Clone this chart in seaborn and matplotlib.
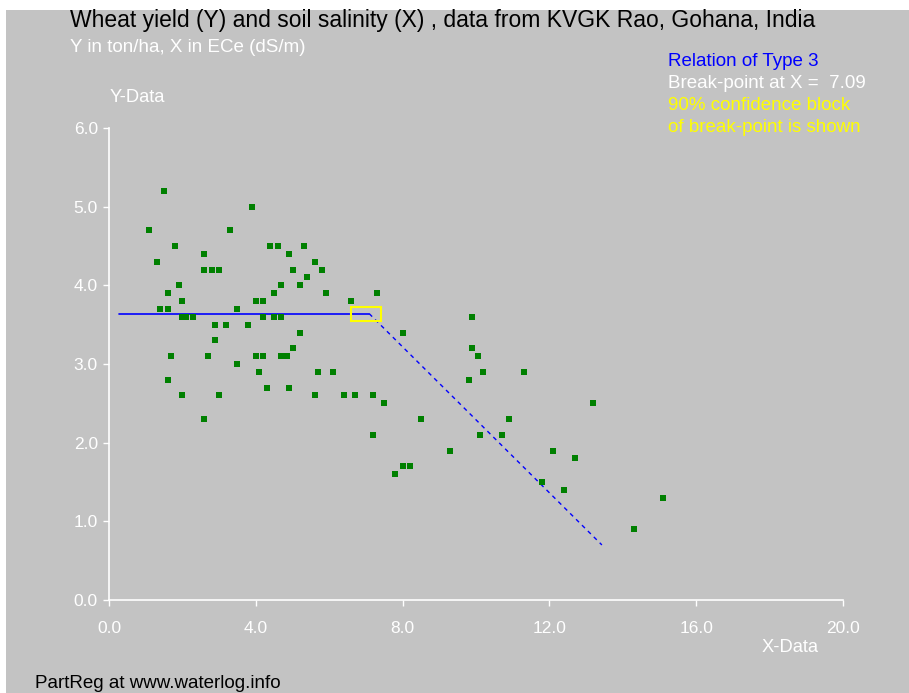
import numpy as np
import pandas as pd
import matplotlib
matplotlib.use("Agg")
import matplotlib.pyplot as plt
import seaborn as sns
from matplotlib.patches import Rectangle

# data (X = ECe in dS/m, Y = wheat yield ton/ha)
salinity = [1.5, 3.9, 1.1, 3.3, 1.8, 4.4, 4.6, 5.3, 2.6, 4.9,
            1.3, 5.6, 2.6, 2.8, 3.0, 5.0, 5.8, 5.4, 1.9, 4.7,
            5.2, 1.6, 4.5, 5.9, 7.3, 2.0, 4.0, 4.2, 6.6, 1.4,
            1.6, 3.5, 2.0, 2.1, 2.3, 4.2, 4.5, 4.7, 9.9, 2.9,
            3.2, 3.8, 5.2, 8.0, 2.9, 5.0, 9.9, 1.7, 2.7, 4.0,
            4.2, 4.7, 4.85, 10.05, 3.5, 4.1, 5.7, 6.1, 10.2, 11.3,
            1.6, 9.8, 4.3, 4.9, 2.0, 3.0, 5.6, 6.4, 6.7, 7.2,
            7.5, 13.2, 2.6, 8.5, 10.9, 7.2, 10.1, 10.7, 9.3, 12.1,
            12.7, 8.0, 8.2, 7.8, 11.8, 12.4, 15.1, 14.3]
yield_ = [5.2, 5.0, 4.7, 4.7, 4.5, 4.5, 4.5, 4.5, 4.4, 4.4,
          4.3, 4.3, 4.2, 4.2, 4.2, 4.2, 4.2, 4.1, 4.0, 4.0,
          4.0, 3.9, 3.9, 3.9, 3.9, 3.8, 3.8, 3.8, 3.8, 3.7,
          3.7, 3.7, 3.6, 3.6, 3.6, 3.6, 3.6, 3.6, 3.6, 3.5,
          3.5, 3.5, 3.4, 3.4, 3.3, 3.2, 3.2, 3.1, 3.1, 3.1,
          3.1, 3.1, 3.1, 3.1, 3.0, 2.9, 2.9, 2.9, 2.9, 2.9,
          2.8, 2.8, 2.7, 2.7, 2.6, 2.6, 2.6, 2.6, 2.6, 2.6,
          2.5, 2.5, 2.3, 2.3, 2.3, 2.1, 2.1, 2.1, 1.9, 1.9,
          1.8, 1.7, 1.7, 1.6, 1.5, 1.4, 1.3, 0.9]

# fitted broken-line (type 3 relation)
flat_x = [0.27, 7.09]
flat_y = [3.64, 3.64]
slope_x = [7.09, 13.43]
slope_y = [3.64, 0.70]
# 90% confidence block of the break-point
block_x = [6.59, 7.41]
block_y = [3.55, 3.73]

x_ticks = [0, 4, 8, 12, 16, 20]
y_ticks = [0, 1, 2, 3, 4, 5, 6]

W, H = 909, 693
GRAY = "#c3c3c3"

sns.set_style("white")
plt.rcParams["font.family"] = ["Liberation Sans", "DejaVu Sans"]

fig = plt.figure(figsize=(W / 100, H / 100), dpi=100, facecolor="white")
fig.patches.append(Rectangle((6 / W, 0), 1 - 6 / W, 1 - 10 / H,
                             transform=fig.transFigure, facecolor=GRAY,
                             edgecolor="none", zorder=-10))

ax = fig.add_axes([109 / W, 1 - 600 / H, (843 - 109) / W, (600 - 128) / H])
ax.set_facecolor("none")

df = pd.DataFrame({"x": salinity, "y": yield_})
sns.scatterplot(data=df, x="x", y="y", ax=ax, marker="s", s=14,
                color="#008000", linewidth=0, zorder=3)

ax.plot(flat_x, flat_y, color="#0000ff", lw=1.2, zorder=2)
ax.plot(slope_x, slope_y, color="#0000ff", lw=1.0, ls=(0, (3, 3)), zorder=2)
ax.add_patch(Rectangle((block_x[0], block_y[0]), block_x[1] - block_x[0],
                       block_y[1] - block_y[0], fill=False,
                       edgecolor="#ffff00", lw=1.5, zorder=4))

ax.set_xlim(0, 20)
ax.set_ylim(0, 6)
ax.set_xticks(x_ticks)
ax.set_yticks(y_ticks)
ax.set_xticklabels([f"{v:.1f}" for v in x_ticks])
ax.set_yticklabels([f"{v:.1f}" for v in y_ticks])
ax.set_xlabel("")
ax.set_ylabel("")
for side in ["top", "right"]:
    ax.spines[side].set_visible(False)
for side in ["left", "bottom"]:
    ax.spines[side].set_color("white")
    ax.spines[side].set_linewidth(1.2)
ax.tick_params(colors="white", labelsize=12.5, length=4, width=1,
               direction="out", pad=4, bottom=True, left=True)
ax.tick_params(axis="x", pad=11)


def put(x, y, s, **kw):
    fig.text(x / W, 1 - y / H, s, va="center", ha="left", **kw)


put(70, 20, "Wheat yield (Y) and soil salinity (X) , data from KVGK Rao, Gohana, India",
    color="black", fontsize=16.5)
put(70, 47, "Y in ton/ha, X in ECe (dS/m)", color="white", fontsize=13.5)
put(110, 97, "Y-Data", color="white", fontsize=13.2)
put(668, 62, "Relation of Type 3", color="#0000ff", fontsize=13.5)
put(668, 83, "Break-point at X =  7.09", color="white", fontsize=13.5)
put(668, 106, "90% confidence block", color="#ffff00", fontsize=13.5)
put(668, 128, "of break-point is shown", color="#ffff00", fontsize=13.5)
put(762, 648, "X-Data", color="white", fontsize=13.2)
put(35, 683, "PartReg at www.waterlog.info", color="black", fontsize=13.5)

fig.savefig("out.png", dpi=100, facecolor="white")
